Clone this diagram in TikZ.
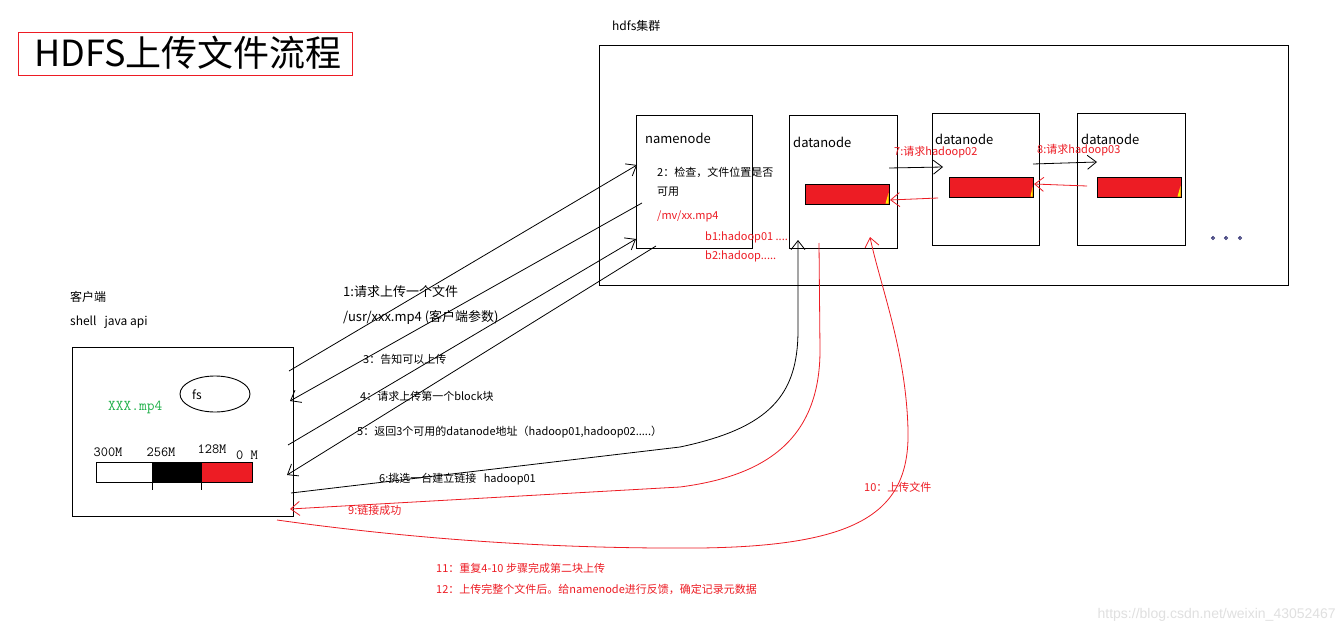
\documentclass[tikz,border=0pt]{standalone}
\usepackage{fontspec}
\setmainfont{Noto Sans CJK SC}
\newfontfamily\wmfont{Liberation Sans}
\usetikzlibrary{arrows.meta,shapes.geometric}
\definecolor{myred}{RGB}{237,28,36}
\definecolor{mygreen}{RGB}{34,177,76}
\definecolor{myyellow}{RGB}{255,242,0}
\definecolor{dotblue}{RGB}{40,40,110}
\begin{document}
\begin{tikzpicture}[x=1pt,y=-1pt,
  box/.style={draw=black, line width=0.9pt, inner sep=0pt, fill=none},
  txt/.style={anchor=west, inner sep=0pt, text=black},
  f11/.style={font=\fontsize{11}{13}\selectfont},
  f12/.style={font=\fontsize{12}{14}\selectfont},
  f13/.style={font=\fontsize{13}{15}\selectfont},
  mono/.style={inner sep=0pt, font=\ttfamily\fontsize{14}{16}\selectfont},
  redtxt/.style={text=myred},
  arr/.style={-{Straight Barb[length=9pt,width=14pt]}, line width=0.8pt},
  rbox/.style={draw=black, fill=myred, line width=0.8pt, inner sep=0pt}
]
\useasboundingbox (0,0) rectangle (1344,634);
\fill[white] (0,0) rectangle (1344,634);

% title
\node[draw=myred, line width=0.9pt, minimum width=334pt, minimum height=43pt, inner sep=0pt] (title) at (185,53.5) {};
\node[inner sep=0pt, font=\fontsize{36}{40}\selectfont] (titletxt) at (188,53) {HDFS上传文件流程};

% cluster
\node[txt, f12] (clusterlbl) at (612,26) {hdfs集群};
\node[box, minimum width=689pt, minimum height=240pt] (cluster) at (943.5,165) {};

% namenode
\node[box, minimum width=116pt, minimum height=133pt] (nn) at (694,181.5) {};
\node[txt, f13] (nnlbl) at (645,138) {namenode};
\node[txt, f11] (nnt1) at (657,172) {2：检查，文件位置是否};
\node[txt, f11] (nnt2) at (657,192) {可用};
\node[txt, f11, redtxt] (nnt3) at (657,216) {/mv/xx.mp4};
\node[txt, f11, redtxt] (b1) at (705,237) {b1:hadoop01 ....};
\node[txt, f11, redtxt] (b2) at (705,256) {b2:hadoop.....};

% datanodes
\node[box, minimum width=108pt, minimum height=133pt] (dn1) at (843,181.5) {};
\node[txt, f13] (dn1lbl) at (793,142) {datanode};
\node[rbox, minimum width=84pt, minimum height=20pt] (blk1) at (847,194) {};
\fill[myyellow] (885.5,203.5) -- (888.5,193) -- (888.5,203.5) -- cycle;

\node[box, minimum width=107pt, minimum height=132pt] (dn2) at (985.5,179) {};
\node[txt, f13] (dn2lbl) at (935,139) {datanode};
\node[rbox, minimum width=84pt, minimum height=20pt] (blk2) at (991,187) {};
\fill[myyellow] (1030.5,196.5) -- (1032.5,187) -- (1032.5,196.5) -- cycle;

\node[box, minimum width=108pt, minimum height=132pt] (dn3) at (1131,179) {};
\node[txt, f13] (dn3lbl) at (1081,139) {datanode};
\node[rbox, minimum width=84pt, minimum height=20pt] (blk3) at (1139,187) {};
\fill[myyellow] (1177.5,196.5) -- (1180.5,186) -- (1180.5,196.5) -- cycle;

\node[txt, f11, redtxt] (l7) at (894,152) {7:请求hadoop02};
\node[txt, f11, redtxt] (l8) at (1037,150) {8:请求hadoop03};

\foreach \i/\xx in {1/1213,2/1226,3/1240}
  \draw[dotblue, line width=0.9pt] (\xx,238) circle (1.4pt);

% client
\node[txt, f12] (clientlbl) at (70,297) {客户端};
\node[txt, f12] (clientsub) at (70,322) {shell\ \ \ java api};
\node[box, minimum width=221pt, minimum height=169pt] (client) at (182.5,431.5) {};
\node[draw=black, line width=0.9pt, ellipse, minimum width=70pt, minimum height=36pt, inner sep=0pt] (fs) at (215,394) {};
\node[txt, f12] (fslbl) at (192,395) {fs};
\node[txt, font=\ttfamily\fontsize{15}{17}\selectfont, text=mygreen] (file) at (108,407) {XXX.mp4};

% bar
\node[draw=black, line width=0.9pt, minimum width=156pt, minimum height=20pt, inner sep=0pt] (bar) at (174,472) {};
\fill[black] (152,462) rectangle (201,482);
\node[rbox, minimum width=51pt, minimum height=20pt] (barred) at (226.5,472) {};
\draw[black, line width=0.9pt] (152,462) -- (152,490) (201,462) -- (201,490);
\node[mono] (m300) at (108,452) {300M};
\node[mono] (m256) at (161,452) {256M};
\node[mono] (m128) at (212,449) {128M};
\node[mono] (m0) at (247,455) {0 M};

% labels of the steps
\node[txt, f13] (s1a) at (343,292) {1:请求上传一个文件};
\node[txt, f13] (s1b) at (343,317) {/usr/xxx.mp4 (客户端参数)};
\node[txt, f11] (s3) at (363,359) {3：告知可以上传};
\node[txt, f11] (s4) at (360,396) {4：请求上传第一个block块};
\node[txt, f11] (s5) at (357,432) {5：返回3个可用的datanode地址（hadoop01,hadoop02.....）};
\node[txt, f11] (s6) at (379,479) {6:挑选一台建立链接\ \ \ hadoop01};
\node[txt, f11, redtxt] (s9) at (348,510) {9:链接成功};
\node[txt, f11, redtxt] (s10) at (864,487) {10：上传文件};
\node[txt, f11, redtxt] (s11) at (436,568) {11：重复4-10 步骤完成第二块上传};
\node[txt, f11, redtxt] (s12) at (436,589) {12：上传完整个文件后。给namenode进行反馈，确定记录元数据};

% connector end points
\coordinate (c1s) at (289,371); \coordinate (n1e) at (637,165);
\coordinate (n3s) at (642,203); \coordinate (c3e) at (290,401);
\coordinate (c4s) at (288,445); \coordinate (n4e) at (636,239);
\coordinate (n5s) at (656,246); \coordinate (c5e) at (287,475);
\coordinate (c6s) at (291,493); \coordinate (d6e) at (798,240);
\coordinate (d9s) at (819,243); \coordinate (c9e) at (290,509);
\coordinate (c10s) at (277,520); \coordinate (d10e) at (870,237);
\coordinate (d1a) at (889,168); \coordinate (d2a) at (943,167);
\coordinate (d2b) at (1033,164); \coordinate (d3a) at (1097,162);
\coordinate (d3b) at (1087,186); \coordinate (d2c) at (1034,184);
\coordinate (d2d) at (938,198); \coordinate (d1b) at (890,200);

% connectors
\draw[arr, black] (c1s) -- (n1e);
\draw[arr, black] (n3s) -- (c3e);
\draw[arr, black] (c4s) -- (n4e);
\draw[arr, black] (n5s) -- (c5e);
\draw[arr, black] (c6s) -- (680,447) .. controls (770,428) and (798,395) .. (798,330) -- (d6e);
\draw[arr, myred] (d9s) -- (820,350) .. controls (820,440) and (765,476) .. (680,487) -- (c9e);
\draw[arr, myred] (c10s) .. controls (420,540) and (560,549) .. (700,548)
   .. controls (860,546) and (910,512) .. (908,430)
   .. controls (906,350) and (880,285) .. (d10e);
\draw[arr, black] (d1a) -- (d2a);
\draw[arr, black] (d2b) -- (d3a);
\draw[arr, myred] (d3b) -- (d2c);
\draw[arr, myred] (d2d) -- (d1b);

% watermark
\node[anchor=east, inner sep=0pt, font=\wmfont\fontsize{14}{16}\selectfont, text=black!12] (wm) at (1336,615) {https://blog.csdn.net/weixin\_43052467};
\end{tikzpicture}
\end{document}
